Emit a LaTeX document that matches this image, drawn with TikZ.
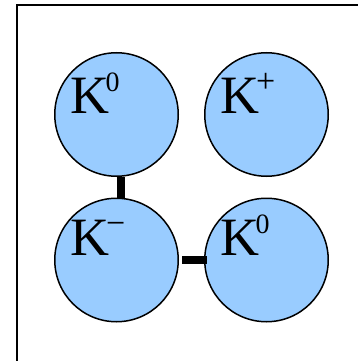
\documentclass[tikz,border=0pt]{standalone}
\usepackage{fontspec}
\setmainfont{Liberation Serif}
\definecolor{ballblue}{RGB}{153,204,255}
\tikzset{
  ball/.style={circle, draw=black, line width=1.5pt, fill=ballblue, minimum size=123.5pt, inner sep=0pt},
  kname/.style={anchor=base west, inner sep=0pt, font=\fontsize{54}{60}\selectfont},
  bond/.style={draw=black, line width=7.5pt},
  frameline/.style={draw=black, line width=2.4pt}
}
\newcommand{\supz}[1]{\kern-3.5pt\raisebox{21.5pt}{\fontsize{28}{28}\selectfont #1}}
\newcommand{\supp}[1]{\kern-3pt\raisebox{21pt}{\fontsize{34}{34}\selectfont #1}}
\begin{document}
\begin{tikzpicture}[x=1pt,y=-1pt]
\useasboundingbox (0,0) rectangle (358,361);
\clip (0,0) rectangle (358,361);
\draw[frameline] (17,5) rectangle (420,420);
\node[ball] (c1) at (116.5,114.5) {};
\node[ball] (c2) at (266.5,114.5) {};
\node[ball] (c3) at (116.5,260) {};
\node[ball] (c4) at (266.5,260) {};
\node[kname] (t1) at (70,113) {K\supz{0}};
\node[kname] (t2) at (220,113) {K\supp{+}};
\node[kname] (t3) at (70,255) {K\supp{−}};
\node[kname] (t4) at (220,255) {K\supz{0}};
\draw[bond] ([xshift=4.5pt]c1.south) -- ([xshift=4.5pt]c3.north);
\draw[bond, line width=8pt] ([xshift=3pt]c3.east) -- ([xshift=2.5pt]c4.west);
\end{tikzpicture}
\end{document}
